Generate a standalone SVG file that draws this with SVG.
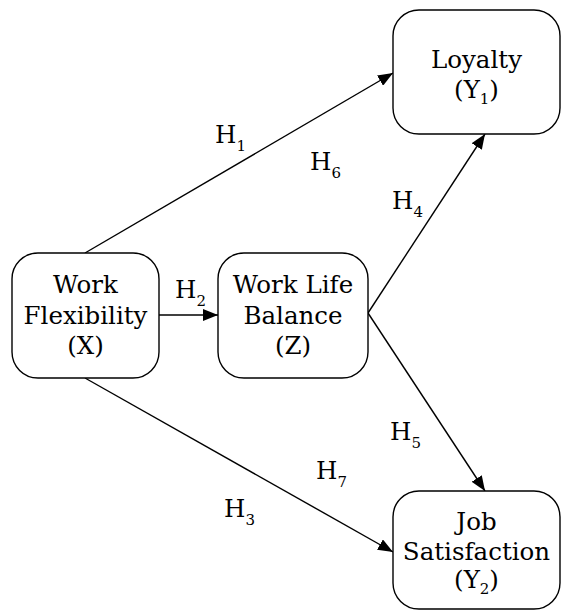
<svg xmlns="http://www.w3.org/2000/svg" width="563" height="612" viewBox="0 0 563 612">
<defs>
<style>
.box{fill:#fff;stroke:#000;stroke-width:1.4}
.t{font-family:"DejaVu Serif","Liberation Serif",serif;font-size:24.5px;fill:#000;text-anchor:middle}
.h{font-family:"DejaVu Serif","Liberation Serif",serif;font-size:24.5px;fill:#000}
.s{font-size:15px}
.c{stroke:#000;stroke-width:1.4;fill:none;marker-end:url(#ah)}
</style>
<marker id="ah" markerUnits="userSpaceOnUse" markerWidth="16" markerHeight="12" viewBox="0 0 16 12" refX="15" refY="6" orient="auto">
<path d="M0,0 L15,6 L0,12 z" fill="#000"/>
</marker>
</defs>
<g id="connectors">
<path class="c" d="M85,253 L393,73"/>
<path class="c" d="M159,315 L218,315"/>
<path class="c" d="M85,378 L393,552"/>
<path class="c" d="M368,313 L485,134"/>
<path class="c" d="M368,313 L485,491"/>
</g>
<g id="loyalty">
<rect class="box" x="393" y="10" width="167" height="124" rx="26"/>
<text class="t" x="476.5" y="68">Loyalty</text>
<text class="t" x="476.5" y="98">(Y<tspan class="s" dy="6">1</tspan><tspan dy="-6">)</tspan></text>
</g>
<g id="work-flexibility">
<rect class="box" x="12" y="253" width="147" height="125" rx="26"/>
<text class="t" x="85.5" y="293">Work</text>
<text class="t" x="85.5" y="324">Flexibility</text>
<text class="t" x="85.5" y="354">(X)</text>
</g>
<g id="work-life-balance">
<rect class="box" x="218" y="253" width="150" height="125" rx="26"/>
<text class="t" x="293" y="293">Work Life</text>
<text class="t" x="293" y="324">Balance</text>
<text class="t" x="293" y="354">(Z)</text>
</g>
<g id="job-satisfaction">
<rect class="box" x="393" y="491" width="167" height="118" rx="26"/>
<text class="t" x="476.5" y="530">Job</text>
<text class="t" x="476.5" y="560">Satisfaction</text>
<text class="t" x="476.5" y="588">(Y<tspan class="s" dy="6">2</tspan><tspan dy="-6">)</tspan></text>
</g>
<g id="labels">
<text class="h" x="215" y="143">H<tspan class="s" dy="8">1</tspan></text>
<text class="h" x="175" y="298">H<tspan class="s" dy="8">2</tspan></text>
<text class="h" x="224" y="517">H<tspan class="s" dy="8">3</tspan></text>
<text class="h" x="392" y="209">H<tspan class="s" dy="8">4</tspan></text>
<text class="h" x="390" y="440">H<tspan class="s" dy="8">5</tspan></text>
<text class="h" x="310" y="170">H<tspan class="s" dy="8">6</tspan></text>
<text class="h" x="316" y="479">H<tspan class="s" dy="8">7</tspan></text>
</g>
</svg>
